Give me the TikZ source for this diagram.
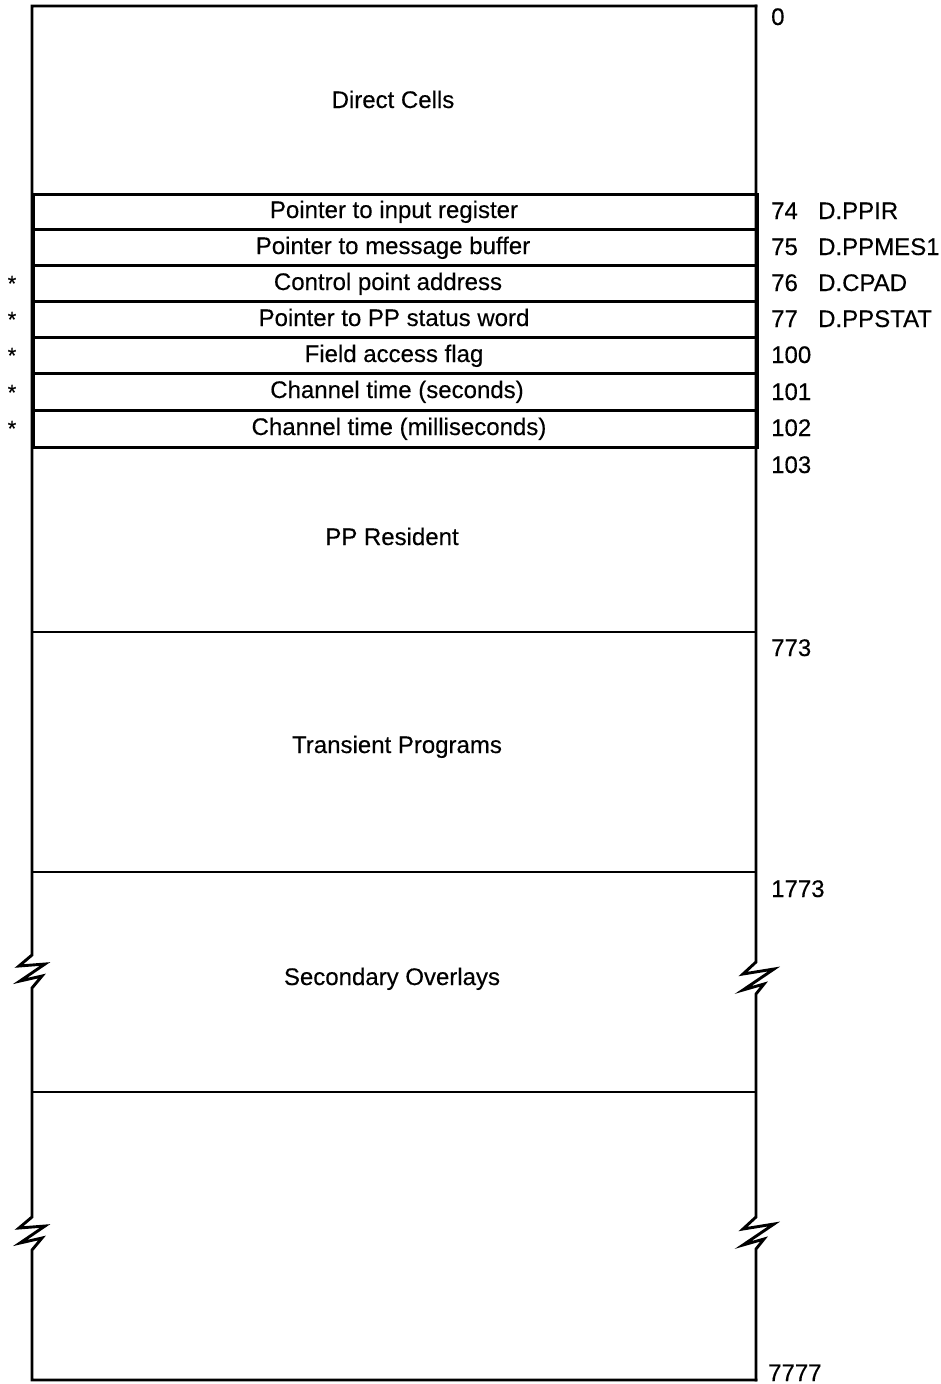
\documentclass[tikz,border=0pt]{standalone}
\usepackage{fontspec}
\setmainfont{Liberation Sans}[FakeBold=0.3]
\begin{document}
\begin{tikzpicture}[x=1pt,y=-1pt,
  outline/.style={line width=2.9pt, line cap=rect, line join=miter},
  divider/.style={line width=2.6pt},
  rowbox/.style={draw, line width=2.6pt, minimum width=724pt, inner sep=0pt, anchor=north west},
  txt/.style={font=\fontsize{24}{28}\selectfont, inner sep=0pt, anchor=base},
  addr/.style={font=\fontsize{24}{28}\selectfont, inner sep=0pt, anchor=base west},
  star/.style={font=\fontsize{22}{26}\selectfont, inner sep=0pt, anchor=base}]
\useasboundingbox (0,0) rectangle (941,1384);

% outer frame with break marks
\draw[outline] (756,6) -- (32,6) -- (32,955)
  -- ++(-13,11) -- ++(26,-2) -- ++(-25,17) -- ++(22,-5) -- ++(-10,12)
  -- (32,1217)
  -- ++(-13,11) -- ++(26,-2) -- ++(-25,17) -- ++(22,-5) -- ++(-10,12)
  -- (32,1380) -- (756,1380);
\draw[outline] (756,6) -- (756,962)
  -- ++(-13,12) -- ++(31,-5) -- ++(-31,21) -- ++(21,-6) -- ++(-8,10)
  -- (756,1217)
  -- ++(-13,12) -- ++(31,-5) -- ++(-31,21) -- ++(21,-6) -- ++(-8,10)
  -- (756,1380);

% rows
\node[rowbox, minimum height=35pt] (r74)  at (32,193) {};
\node[rowbox, minimum height=36pt] (r75)  at (32,228) {};
\node[rowbox, minimum height=36pt] (r76)  at (32,264) {};
\node[rowbox, minimum height=36pt] (r77)  at (32,300) {};
\node[rowbox, minimum height=36pt] (r100) at (32,336) {};
\node[rowbox, minimum height=37pt] (r101) at (32,372) {};
\node[rowbox, minimum height=37pt] (r102) at (32,409) {};

% dividers
\draw[divider] (32,632) -- (756,632);
\draw[divider] (32,872) -- (756,872);
\draw[divider] (32,1092) -- (756,1092);

% region labels
\node[txt] (direct) at (393,108) {Direct Cells};
\node[txt] (t74)  at (394,218) {Pointer to input register};
\node[txt] (t75)  at (393,254) {Pointer to message buffer};
\node[txt] (t76)  at (388,290) {Control point address};
\node[txt] (t77)  at (394,326) {Pointer to PP status word};
\node[txt] (t100) at (394,362) {Field access flag};
\node[txt] (t101) at (397,398) {Channel time (seconds)};
\node[txt] (t102) at (399,435) {Channel time (milliseconds)};
\node[txt] (ppres) at (392,545) {PP Resident};
\node[txt] (trans) at (397,753) {Transient Programs};
\node[txt] (sec) at (392,985) {Secondary Overlays};

% asterisks
\node[star] (s76)  at (12,291) {*};
\node[star] (s77)  at (12,327) {*};
\node[star] (s100) at (12,363) {*};
\node[star] (s101) at (12,400) {*};
\node[star] (s102) at (12,436) {*};

% addresses
\node[addr] (a0)    at (771,25)  {0};
\node[addr] (a74)   at (771,219) {74};
\node[addr] (a75)   at (771,255) {75};
\node[addr] (a76)   at (771,291) {76};
\node[addr] (a77)   at (771,327) {77};
\node[addr] (a100)  at (771,363) {100};
\node[addr] (a101)  at (771,400) {101};
\node[addr] (a102)  at (771,436) {102};
\node[addr] (a103)  at (771,473) {103};
\node[addr] (a773)  at (771,656) {773};
\node[addr] (a1773) at (771,897) {1773};
\node[addr] (a7777) at (768,1381) {7777};

% symbolic names
\node[addr] (n74) at (818,219) {D.PPIR};
\node[addr] (n75) at (818,255) {D.PPMES1};
\node[addr] (n76) at (818,291) {D.CPAD};
\node[addr] (n77) at (818,327) {D.PPSTAT};
\end{tikzpicture}
\end{document}
